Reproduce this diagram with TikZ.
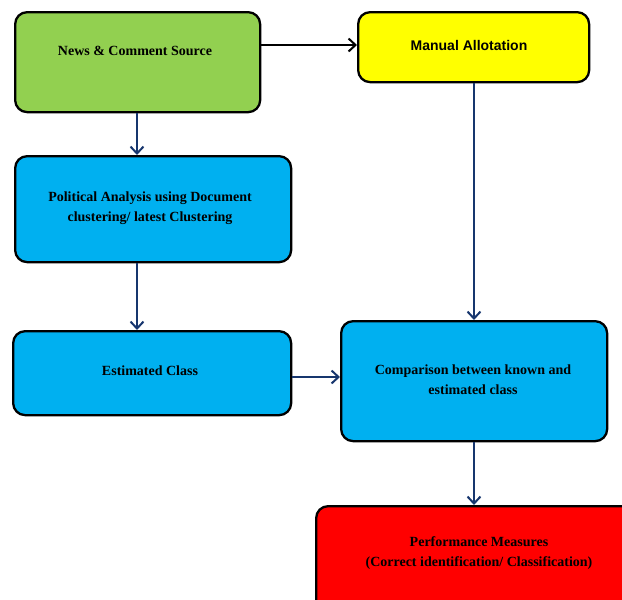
\documentclass[tikz,border=0pt]{standalone}
\usepackage{fontspec}
\setmainfont{Liberation Serif}
\setsansfont{Liberation Sans}
\usetikzlibrary{arrows.meta}
\definecolor{boxgreen}{HTML}{92D050}
\definecolor{boxyellow}{HTML}{FFFF00}
\definecolor{boxblue}{HTML}{00B0F0}
\definecolor{boxred}{HTML}{FF0000}
\definecolor{navy}{HTML}{17366E}
\tikzset{
  x=1pt, y=-1pt,
  box/.style={draw=black, line width=2.3pt, rounded corners=12pt, anchor=north west, inner sep=0pt},
  lbl/.style={align=center, inner sep=0pt, font=\fontsize{14}{20}\selectfont\bfseries},
  conn/.style={draw=navy, line width=2pt, -{Straight Barb[length=7pt,width=13pt,line width=2pt]}},
  connblack/.style={draw=black, line width=2pt, -{Straight Barb[length=7pt,width=13pt,line width=2pt]}},
}
\begin{document}
\begin{tikzpicture}
\useasboundingbox (0,0) rectangle (622,600);
\clip (0,0) rectangle (622,600);
\node[box, fill=boxgreen, minimum width=245pt, minimum height=100pt] (news) at (14,11) {};
\node[lbl] (newst) at (135,51) {News \& Comment Source};
\node[box, fill=boxyellow, minimum width=231pt, minimum height=70pt] (manual) at (357,11) {};
\node[lbl, font=\sffamily\fontsize{14}{16}\selectfont\bfseries] (manualt) at (469,45) {Manual Allotation};
\node[box, fill=boxblue, minimum width=276pt, minimum height=106pt] (pol) at (14,155) {};
\node[lbl] (polt) at (150,208) {Political Analysis using Document\\clustering/ latest Clustering};
\node[box, fill=boxblue, minimum width=278pt, minimum height=84pt] (est) at (12,330) {};
\node[lbl] (estt) at (150,371) {Estimated Class};
\node[box, fill=boxblue, minimum width=266pt, minimum height=120pt] (cmp) at (340,320) {};
\node[lbl] (cmpt) at (473,380) {Comparison between known and\\estimated class};
\node[box, fill=boxred, minimum width=320pt, minimum height=110pt] (perf) at (315,505) {};
\node[lbl] (perft) at (479,553) {Performance Measures\\(Correct identification/ Classification)};
\draw[connblack] (news.east |- 0,45) -- (manual.west |- 0,45);
\draw[conn] (news.south -| 137,0) -- (pol.north -| 137,0);
\draw[conn] (pol.south -| 137,0) -- (est.north -| 137,0);
\draw[conn] (manual.south -| 474,0) -- (cmp.north -| 474,0);
\draw[conn] (est.east |- 0,377) -- (cmp.west |- 0,377);
\draw[conn] (cmp.south -| 474,0) -- (perf.north -| 474,0);
\end{tikzpicture}
\end{document}
